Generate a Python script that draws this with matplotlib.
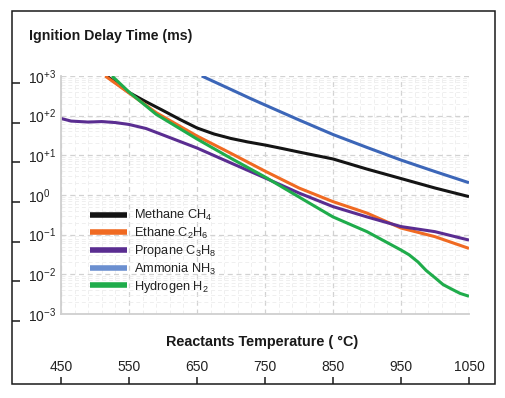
import matplotlib
matplotlib.use("Agg")
from matplotlib import pyplot as plt
from matplotlib.patches import Rectangle
from matplotlib.ticker import FixedLocator, LogLocator, NullFormatter
import numpy as np

plt.rcParams['font.family'] = ['Liberation Sans', 'DejaVu Sans']
plt.rcParams['mathtext.fontset'] = 'custom'
plt.rcParams['mathtext.rm'] = 'Liberation Sans'
plt.rcParams['mathtext.it'] = 'Liberation Sans'

# values, temperature in degC, delay in ms
methane_t = [517, 525, 550, 575, 600, 625, 650, 675, 700, 725, 750, 775, 800, 850, 900, 950, 1000, 1050]
methane_ms = [1000, 793, 384, 225, 135, 80, 49, 34.5, 26.6, 21.7, 18.2, 14.9, 12.1, 8.1, 4.5, 2.6, 1.5, 0.91]

ethane_t = [515, 550, 590, 650, 700, 750, 800, 850, 900, 950, 1000, 1050]
ethane_ms = [1000, 373, 119, 30.7, 11.2, 4.0, 1.5, 0.68, 0.35, 0.147, 0.089, 0.045]

propane_t = [450, 465, 490, 510, 530, 550, 575, 600, 650, 700, 750, 800, 850, 900, 950, 1000, 1050]
propane_ms = [85, 73, 69, 71, 67, 60, 47.5, 32.6, 15.3, 6.4, 2.7, 1.12, 0.51, 0.28, 0.16, 0.119, 0.073]

ammonia_t = [657, 700, 728, 750, 800, 850, 900, 950, 1000, 1050]
ammonia_ms = [1000, 457, 274, 186, 78, 33.5, 15.8, 7.6, 3.9, 2.04]

hydrogen_t = [525, 550, 590, 650, 700, 750, 800, 850, 900, 950, 962, 975, 987, 1000, 1012, 1025, 1037, 1050]
hydrogen_ms = [1000, 395, 108, 25.8, 8.4, 2.85, 0.89, 0.28, 0.119, 0.041, 0.031, 0.0205, 0.0125,
               0.0082, 0.0055, 0.0042, 0.0033, 0.0028]

x_ticks = [450, 550, 650, 750, 850, 950, 1050]
y_ticks = [1e3, 1e2, 1e1, 1e0, 1e-1, 1e-2, 1e-3]
y_labels = ['$10^{+3}$', '$10^{+2}$', '$10^{+1}$', '$10^{0}$', '$10^{-1}$', '$10^{-2}$', '$10^{-3}$']

W, H = 506, 398
fig = plt.figure(figsize=(W / 100, H / 100), dpi=100)

def px_box(x0, y0, x1, y1):
    # pixel box (top-left origin) -> figure fraction rect
    return [x0 / W, 1 - y1 / H, (x1 - x0) / W, (y1 - y0) / H]

# outer frame
fig.patches.append(Rectangle((12 / W, 1 - 384 / H), 483 / W, 373 / H,
                             transform=fig.transFigure, fill=False,
                             edgecolor='#1a1a1a', linewidth=1.1))

ax = fig.add_axes(px_box(61, 76, 469, 314))
ax.set_yscale('log')
ax.set_xlim(450, 1050)
ax.set_ylim(1e-3, 1e3)

ax.xaxis.set_minor_locator(FixedLocator(np.arange(450, 1051, 20)))
ax.yaxis.set_minor_locator(LogLocator(base=10, subs=[2, 3, 4, 5, 6, 7, 8, 9]))
ax.yaxis.set_minor_formatter(NullFormatter())
ax.grid(which='minor', color='#efefef', linestyle=(0, (4, 3)), linewidth=0.7)
ax.grid(which='major', color='#d2d2d2', linestyle=(0, (4, 3)), linewidth=0.9)
ax.set_axisbelow(True)

for s in ['top', 'right']:
    ax.spines[s].set_visible(False)
for s in ['left', 'bottom']:
    ax.spines[s].set_color('#cfcfcf')
    ax.spines[s].set_linewidth(1.3)

ax.set_xticks(x_ticks)
ax.set_xticklabels([str(t) for t in x_ticks], fontsize=10, color='#222222')
ax.set_yticks(y_ticks)
ax.set_yticklabels(y_labels, fontsize=10, color='#222222', ha='left')
ax.tick_params(axis='both', which='both', length=0)
ax.tick_params(axis='x', pad=33)
ax.tick_params(axis='y', pad=24)

lw = 2.2
ax.plot(methane_t, methane_ms, color='#141414', lw=lw, label='Methane CH$_4$', solid_capstyle='butt')
ax.plot(ethane_t, ethane_ms, color='#f06a22', lw=lw, label='Ethane C$_2$H$_6$', solid_capstyle='butt')
ax.plot(propane_t, propane_ms, color='#5a2d91', lw=lw, label='Propane C$_3$H$_8$', solid_capstyle='butt')
ax.plot(ammonia_t, ammonia_ms, color='#3c66b8', lw=lw, label='Ammonia NH$_3$', solid_capstyle='butt')
ax.plot(hydrogen_t, hydrogen_ms, color='#1fac4b', lw=lw, label='Hydrogen H$_2$', solid_capstyle='butt')

leg = ax.legend(loc='upper left', bbox_to_anchor=(0.072, 0.444), frameon=False,
                fontsize=9.2, handlelength=2.9, handletextpad=0.55,
                labelspacing=0.18, borderpad=0, borderaxespad=0)
for line in leg.get_lines():
    line.set_linewidth(4)
leg.get_lines()[3].set_color('#6b8fd0')
for t in leg.get_texts():
    t.set_color('#222222')

# short ticks on the outer frame
fax = fig.add_axes(px_box(12, 83, 20, 321))
fax.set_yscale('log')
fax.set_ylim(1e-3, 1e3)
fax.set_xlim(0, 1)
fax.set_yticks(y_ticks)
fax.yaxis.set_minor_locator(FixedLocator([]))
fax.set_yticklabels([])
fax.set_xticks([])
fax.tick_params(axis='y', direction='in', length=6, width=1.1, color='#1a1a1a')
fax.patch.set_visible(False)
for s in fax.spines.values():
    s.set_visible(False)

bax = fig.add_axes(px_box(61, 376, 469, 384))
bax.set_xlim(450, 1050)
bax.set_ylim(0, 1)
bax.set_xticks(x_ticks)
bax.set_xticklabels([])
bax.set_yticks([])
bax.tick_params(axis='x', direction='in', length=5, width=1.1, color='#1a1a1a')
bax.patch.set_visible(False)
for s in bax.spines.values():
    s.set_visible(False)

fig.text(29 / W, 1 - 36 / H, 'Ignition Delay Time (ms)', fontsize=10.2,
         fontweight='bold', color='#1a1a1a', ha='left', va='center')
fig.text(262 / W, 1 - 342 / H, 'Reactants Temperature ( \u00b0C)', fontsize=10.4,
         fontweight='bold', color='#1a1a1a', ha='center', va='center')

fig.savefig('out.png', dpi=100)
